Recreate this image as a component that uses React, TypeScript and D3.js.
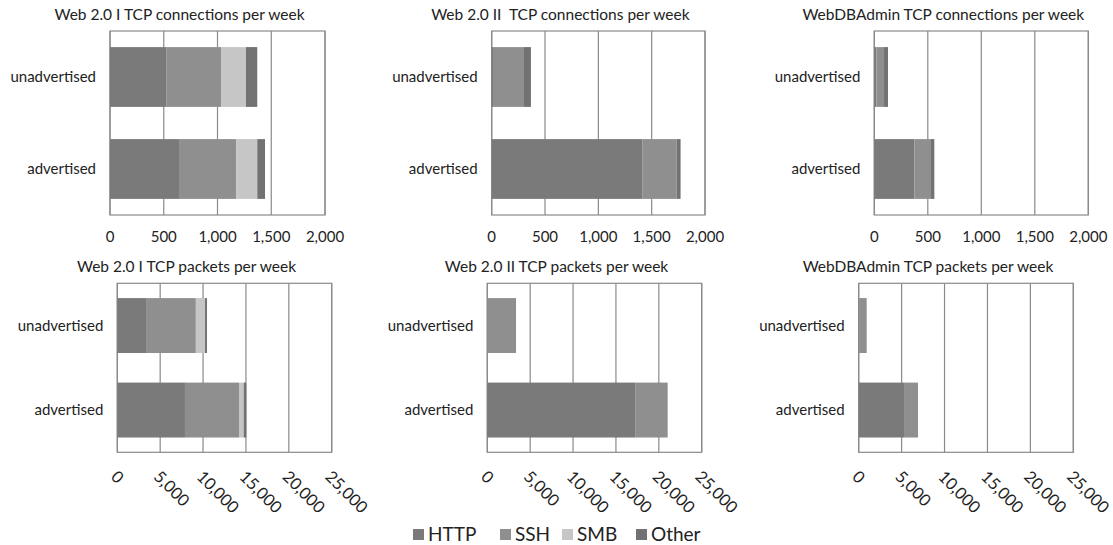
import { useEffect, useRef } from 'react';
import * as d3 from 'd3';

const categories = ['unadvertised', 'advertised'];
const protocols = ['HTTP', 'SSH', 'SMB', 'Other'];
const protocolColors = ['#7a7a7a', '#8f8f8f', '#c6c6c6', '#727272'];

// values per category, in protocol order: HTTP, SSH, SMB, Other
const web1ConnUnadv = [527, 506, 232, 105];
const web1ConnAdv = [642, 533, 195, 72];
const web2ConnUnadv = [20, 276, 0, 72];
const web2ConnAdv = [1415, 319, 0, 37];
const dbConnUnadv = [20, 71, 0, 37];
const dbConnAdv = [374, 156, 0, 31];

const web1PktUnadv = [3350, 5810, 1070, 230];
const web1PktAdv = [7890, 6300, 550, 300];
const web2PktUnadv = [30, 3320, 0, 0];
const web2PktAdv = [17300, 3730, 0, 0];
const dbPktUnadv = [60, 870, 0, 0];
const dbPktAdv = [5280, 1630, 0, 0];

const connTicks = [0, 500, 1000, 1500, 2000];
const pktTicks = [0, 5000, 10000, 15000, 20000, 25000];

const panels = [
  { title: 'Web 2.0 I TCP connections per week', unadv: web1ConnUnadv, adv: web1ConnAdv, ticks: connTicks, x0: 110, x1: 325, y0: 31, y1: 215, rotate: false },
  { title: 'Web 2.0 II  TCP connections per week', unadv: web2ConnUnadv, adv: web2ConnAdv, ticks: connTicks, x0: 491.7, x1: 705, y0: 31, y1: 215, rotate: false },
  { title: 'WebDBAdmin TCP connections per week', unadv: dbConnUnadv, adv: dbConnAdv, ticks: connTicks, x0: 874.3, x1: 1088.3, y0: 31, y1: 215, rotate: false },
  { title: 'Web 2.0 I TCP packets per week', unadv: web1PktUnadv, adv: web1PktAdv, ticks: pktTicks, x0: 117.3, x1: 331.7, y0: 283.3, y1: 452.3, rotate: true },
  { title: 'Web 2.0 II TCP packets per week', unadv: web2PktUnadv, adv: web2PktAdv, ticks: pktTicks, x0: 487.3, x1: 701.7, y0: 283.3, y1: 452.3, rotate: true },
  { title: 'WebDBAdmin TCP packets per week', unadv: dbPktUnadv, adv: dbPktAdv, ticks: pktTicks, x0: 858.7, x1: 1073.3, y0: 283.3, y1: 452.3, rotate: true },
];

const FONT = 'Lato, "Liberation Sans", sans-serif';

const Chart = () => {
  const ref = useRef<SVGSVGElement>(null);

  useEffect(() => {
    document.body.style.margin = '0';
    const svg = d3.select(ref.current);
    svg.selectAll('*').remove();
    svg.append('rect').attr('width', 1113).attr('height', 545).attr('fill', '#fff');

    const fmt = d3.format(',');

    panels.forEach((p) => {
      const rows = categories.map((c, i) => {
        const vals = i === 0 ? p.unadv : p.adv;
        const row: any = { category: c };
        protocols.forEach((k, j) => (row[k] = vals[j]));
        return row;
      });
      const stacked = d3.stack().keys(protocols)(rows);

      const x = d3
        .scaleLinear()
        .domain([0, p.ticks[p.ticks.length - 1]])
        .range([p.x0, p.x1]);
      const y = d3
        .scaleBand()
        .domain(categories)
        .range([p.y0, p.y1])
        .paddingInner(0.35)
        .paddingOuter(0.175);

      const g = svg.append('g');

      // frame + grid
      g.append('rect')
        .attr('x', p.x0)
        .attr('y', p.y0)
        .attr('width', p.x1 - p.x0)
        .attr('height', p.y1 - p.y0)
        .attr('fill', 'none')
        .attr('stroke', '#8a8a8a')
        .attr('stroke-width', 1.2);

      g.selectAll('line.grid')
        .data(p.ticks)
        .join('line')
        .attr('class', 'grid')
        .attr('x1', (d) => x(d))
        .attr('x2', (d) => x(d))
        .attr('y1', p.y0)
        .attr('y2', p.y1)
        .attr('stroke', '#8a8a8a')
        .attr('stroke-width', 1.2);

      // bars
      stacked.forEach((layer, li) => {
        g.selectAll(null)
          .data(layer)
          .join('rect')
          .attr('x', (d) => x(d[0]))
          .attr('y', (d: any) => y(d.data.category)!)
          .attr('width', (d) => Math.max(0, x(d[1]) - x(d[0])))
          .attr('height', y.bandwidth())
          .attr('fill', protocolColors[li]);
      });

      // category labels
      g.selectAll('text.cat')
        .data(categories)
        .join('text')
        .attr('class', 'cat')
        .attr('x', p.x0 - 14)
        .attr('y', (d) => y(d)! + y.bandwidth() / 2)
        .attr('dy', '0.35em')
        .attr('text-anchor', 'end')
        .attr('font-family', FONT)
        .attr('font-size', 15)
        .attr('fill', '#222')
        .text((d) => d);

      // tick labels
      if (!p.rotate) {
        g.selectAll('text.tick')
          .data(p.ticks)
          .join('text')
          .attr('class', 'tick')
          .attr('x', (d) => x(d))
          .attr('y', p.y1 + 27)
          .attr('text-anchor', 'middle')
          .attr('font-family', FONT)
          .attr('font-size', 15)
          .attr('fill', '#222')
          .text((d) => fmt(d));
      } else {
        g.selectAll('text.tick')
          .data(p.ticks)
          .join('text')
          .attr('class', 'tick')
          .attr('transform', (d) => `translate(${x(d) + 1},${p.y1 + 17}) rotate(45)`)
          .attr('dy', '0.72em')
          .attr('text-anchor', 'start')
          .attr('font-family', FONT)
          .attr('font-size', 16.5)
          .attr('fill', '#222')
          .text((d) => fmt(d));
      }

      // title
      g.append('text')
        .attr('x', (p.x0 + p.x1) / 2 - 38)
        .attr('y', p.y0 - 11)
        .attr('text-anchor', 'middle')
        .attr('font-family', FONT)
        .attr('font-size', 15.5)
        .attr('fill', '#222')
        .style('white-space', 'pre')
        .text(p.title);
    });

    // legend
    const legendX = [413, 500, 562, 636];
    const lg = svg.append('g');
    protocols.forEach((k, i) => {
      lg.append('rect')
        .attr('x', legendX[i])
        .attr('y', 529)
        .attr('width', 11)
        .attr('height', 11)
        .attr('fill', protocolColors[i]);
      lg.append('text')
        .attr('x', legendX[i] + 15)
        .attr('y', 541)
        .attr('font-family', FONT)
        .attr('font-size', 19)
        .attr('fill', '#222')
        .text(k);
    });
  }, []);

  return <svg ref={ref} width={1113} height={545} style={{ display: 'block' }} />;
};

export default function App() {
  return (
    <div>
      <Chart />
    </div>
  );
}
